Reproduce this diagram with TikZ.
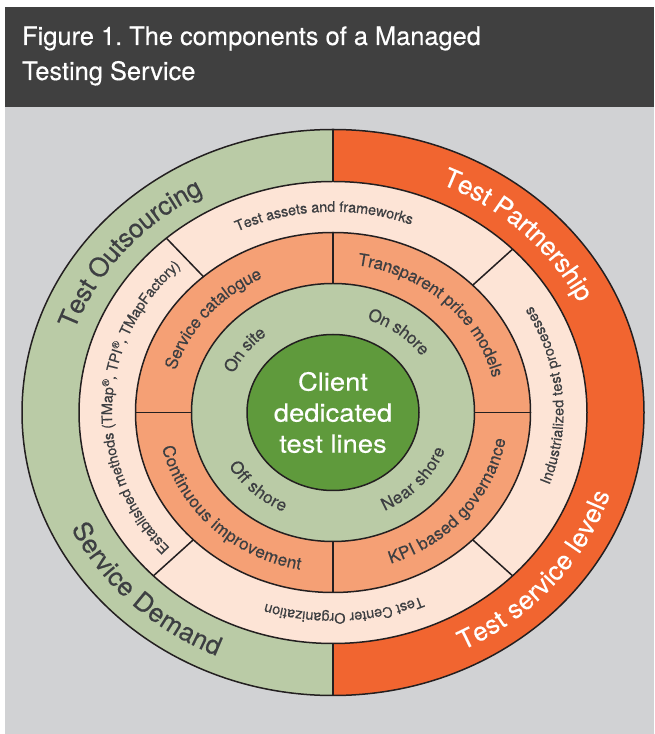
\documentclass[tikz,border=0pt]{standalone}
\usepackage{fontspec}
\setmainfont{TeX Gyre Heros}[FakeBold=0.35]
\usetikzlibrary{decorations.text}
\definecolor{barbg}{HTML}{404040}
\definecolor{pagebg}{HTML}{D1D2D4}
\definecolor{sage}{HTML}{BACBA6}
\definecolor{flame}{HTML}{F16530}
\definecolor{peach}{HTML}{FDE4D6}
\definecolor{salmon}{HTML}{F5A075}
\definecolor{leaf}{HTML}{5F9A3C}
\definecolor{ink}{HTML}{3D3F42}
\definecolor{rim}{HTML}{231F20}
\newcommand\cwtext[7]{% angle, half span, rx, ry, size, colour, text
  \pgfmathsetmacro\aS{#1+#2}\pgfmathsetmacro\aE{#1-#2}%
  \pgfmathsetmacro\rz{-0.33*#5}%
  \path[decorate,decoration={text along path,text align=center,raise=\rz pt,text color=#6,
    text={|\fontsize{#5}{#5}\selectfont|#7}}]
    ([shift={(\aS:#3pt and #4pt)}]c) arc[start angle=\aS,end angle=\aE,x radius=#3pt,y radius=#4pt];}
\newcommand\ccwtext[7]{%
  \pgfmathsetmacro\aS{#1-#2}\pgfmathsetmacro\aE{#1+#2}%
  \pgfmathsetmacro\rz{-0.33*#5}%
  \path[decorate,decoration={text along path,text align=center,raise=\rz pt,text color=#6,
    text={|\fontsize{#5}{#5}\selectfont|#7}}]
    ([shift={(\aS:#3pt and #4pt)}]c) arc[start angle=\aS,end angle=\aE,x radius=#3pt,y radius=#4pt];}
\begin{document}
\frenchspacing
\begin{tikzpicture}[x=1pt,y=1pt]
\tikzset{rimline/.style={draw=rim,line width=1.5pt}}
\useasboundingbox (0,0) rectangle (654,734);
\fill[white] (0,0) rectangle (654,734);
\fill[pagebg] (5,0) rectangle (654,627);
\fill[barbg] (5,627) rectangle (654,727);
\node[anchor=base west,inner sep=0,text=white,font=\fontsize{25.4}{30}\selectfont] (title1) at (22,689) {Figure 1. The components of a Managed};
\node[anchor=base west,inner sep=0,text=white,font=\fontsize{25.4}{30}\selectfont] (title2) at (22,654) {Testing Service};
\coordinate (c) at (333,321.5);
% fills
\fill[sage] (c) ellipse[x radius=311pt,y radius=283pt];
\fill[flame] (c) ++(0,283) arc[start angle=90,end angle=-90,x radius=311pt,y radius=283pt] -- cycle;
\fill[peach] (c) ellipse[x radius=254pt,y radius=231pt];
\fill[salmon] (c) ellipse[x radius=197.5pt,y radius=180pt];
\fill[sage] (c) ellipse[x radius=141.5pt,y radius=129pt];
\fill[leaf] (c) ellipse[x radius=86pt,y radius=78pt];
% outlines
\draw[rimline] (c) ellipse[x radius=311pt,y radius=283pt];
\draw[rimline] (c) ellipse[x radius=254pt,y radius=231pt];
\draw[rimline] (c) ellipse[x radius=197.5pt,y radius=180pt];
\draw[rimline] (c) ellipse[x radius=141.5pt,y radius=129pt];
\draw[rimline] (c) ellipse[x radius=86pt,y radius=78pt];
% dividers
\foreach \a in {90,270}
  \draw[rimline] ([shift={(\a:254pt and 231pt)}]c) -- ([shift={(\a:311pt and 283pt)}]c);
\foreach \a in {131,45,225,315}
  \draw[rimline] ([shift={(\a:197.5pt and 180pt)}]c) -- ([shift={(\a:254pt and 231pt)}]c);
\foreach \a in {0,90,180,270}
  \draw[rimline] ([shift={(\a:141.5pt and 129pt)}]c) -- ([shift={(\a:197.5pt and 180pt)}]c);
% outer ring texts
\cwtext{140}{38}{282.5}{257}{26}{ink}{Test Outsourcing}
\cwtext{45.8}{38}{282.5}{257}{26}{white}{Test Partnership}
\ccwtext{225.4}{38}{282.5}{257}{26}{ink}{Service Demand}
\ccwtext{-40}{38}{282.5}{257}{26}{white}{Test service levels}
% ring 2
\cwtext{92.5}{40}{225.75}{205.5}{14.5}{ink}{Test assets and frameworks}
\cwtext{178}{52}{225.75}{205.5}{14.5}{ink}{Established methods (TMap{\textsuperscript{®}}, TPI{\textsuperscript{®}}, TMapFactory)}
\ccwtext{5}{40}{225.75}{205.5}{14.5}{ink}{Industrialized test processes}
\cwtext{-87}{40}{225.75}{205.5}{14.5}{ink}{Test Center Organization}
% ring 3
\cwtext{140.3}{44}{169.5}{154.5}{17}{ink}{Service catalogue}
\cwtext{47}{44}{169.5}{154.5}{17}{ink}{Transparent price models}
\ccwtext{225.3}{44}{169.5}{154.5}{17}{ink}{Continuous improvement}
\ccwtext{-39.6}{44}{169.5}{154.5}{17}{ink}{KPI based governance}
% ring 4
\cwtext{143}{40}{113.75}{103.5}{17}{ink}{On site}
\cwtext{52.6}{40}{113.75}{103.5}{17}{ink}{On shore}
\ccwtext{226.4}{40}{113.75}{103.5}{17}{ink}{Off shore}
\ccwtext{-41.4}{40}{113.75}{103.5}{17}{ink}{Near shore}
% centre
\node[text=white,align=center,xscale=1.095,font=\fontsize{25}{31}\selectfont] (core) at (c) {Client\\dedicated\\test lines};
\end{tikzpicture}
\end{document}
